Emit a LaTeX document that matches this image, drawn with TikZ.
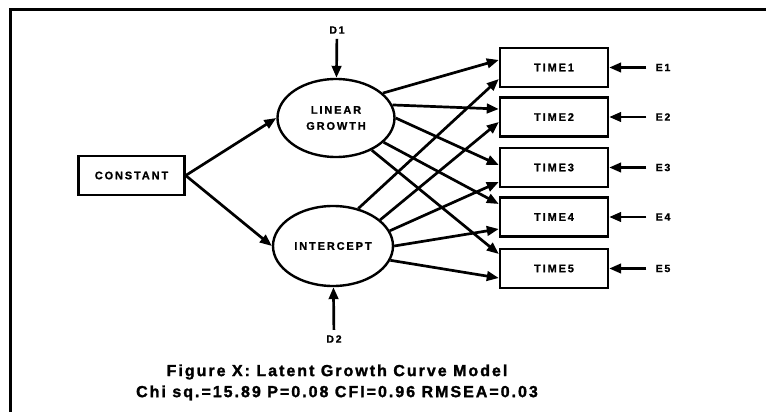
\documentclass[tikz,border=0pt]{standalone}
\usepackage{fontspec}
\setmainfont{Liberation Sans}
\newfontfamily\nodefont[LetterSpace=17,BoldFont={Liberation Sans Bold},BoldFeatures={FakeBold=1.0}]{Liberation Sans}
\newfontfamily\capfont[LetterSpace=12.5,BoldFont={Liberation Sans Bold},BoldFeatures={FakeBold=1.6}]{Liberation Sans}
\usetikzlibrary{arrows.meta,shapes.geometric}
\begin{document}
\begin{tikzpicture}[x=1pt,y=-1pt,
  line width=2.7pt,
  >={Triangle[length=12pt,width=9.5pt]},
  box/.style={draw, line width=2.4pt, minimum width=108pt, minimum height=39pt, inner sep=0pt,
    font=\nodefont\fontsize{11}{12}\bfseries},
  lat/.style={draw, ellipse, line width=2.4pt, inner sep=0pt, align=center,
    font=\nodefont\fontsize{11}{16}\bfseries},
  lab/.style={inner sep=2pt, font=\nodefont\fontsize{10.5}{11}\bfseries},
  captxt/.style={inner sep=0pt, font=\capfont\fontsize{16}{18}\bfseries}]
\useasboundingbox (0,0) rectangle (766,412);
\draw[line width=3.8pt] (10.5,420) -- (10.5,9.5) -- (775,9.5);

\node[box, minimum width=106pt] (con) at (131.5,175.5) {CONSTANT};
\node[lat, minimum width=117pt, minimum height=78pt] (lg) at (336,118) {LINEAR\\GROWTH};
\node[lat, minimum width=120pt, minimum height=80pt] (int) at (333,246) {INTERCEPT};

\node[box] (t1) at (554,67.5) {TIME1};
\node[box] (t2) at (554,117) {TIME2};
\node[box] (t3) at (554,167.5) {TIME3};
\node[box] (t4) at (554,217) {TIME4};
\node[box] (t5) at (554,268.5) {TIME5};

\node[lab] (d1) at (337,30) {D1};
\node[lab] (d2) at (334,339) {D2};
\node[lab] (e1) at (663,67.5) {E1};
\node[lab] (e2) at (663,117) {E2};
\node[lab] (e3) at (663,167.5) {E3};
\node[lab] (e4) at (663,217) {E4};
\node[lab] (e5) at (663,268.5) {E5};

\draw[->] (con.east) -- (lg.west);
\draw[->] (con.east) -- (int.west);
\draw[->, shorten <=2pt] (d1) -- (lg);
\draw[->, shorten <=2pt] (d2) -- (int);
\foreach \i in {1,...,5} {\draw[->, shorten <=6pt] (e\i) -- (t\i);}

\draw[->] (lg.28) -- ([yshift=7.5pt]t1.west);
\draw[->] (lg.13) -- ([yshift=8pt]t2.west);
\draw[->] (lg.0) -- ([yshift=2.5pt]t3.west);
\draw[->] (lg.-27) -- ([yshift=13pt]t4.west);
\draw[->] (lg.-42) -- ([yshift=14.5pt]t5.west);

\draw[->] (int.56) -- ([yshift=-11.5pt]t1.west);
\draw[->] (int.29) -- ([yshift=-5pt]t2.west);
\draw[->] (int.15) -- ([yshift=-14.5pt]t3.west);
\draw[->] (int.0) -- ([yshift=-12pt]t4.west);
\draw[->] (int.-14) -- ([yshift=-9.5pt]t5.west);

\node[captxt] (cap1) at (337,372) {Figure X: Latent Growth Curve Model};
\node[captxt] (cap2) at (337,393) {Chi sq.=15.89 P=0.08 CFI=0.96 RMSEA=0.03};
\end{tikzpicture}
\end{document}
